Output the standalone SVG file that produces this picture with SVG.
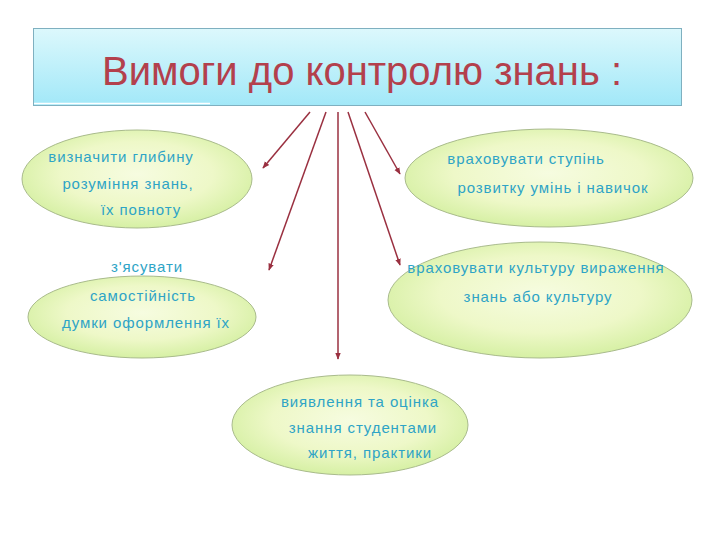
<svg xmlns="http://www.w3.org/2000/svg" width="720" height="540" viewBox="0 0 720 540">
<defs>
<linearGradient id="tg" x1="0" y1="0" x2="0" y2="1">
<stop offset="0" stop-color="#dcf8fc"/>
<stop offset="1" stop-color="#a2e8f8"/>
</linearGradient>
<radialGradient id="eg" cx="0.5" cy="0.45" r="0.55">
<stop offset="0" stop-color="#f6fce0"/>
<stop offset="0.6" stop-color="#eef8c8"/>
<stop offset="1" stop-color="#d6f0a4"/>
</radialGradient>
<marker id="ah" viewBox="0 0 10 10" refX="9" refY="5" markerWidth="7" markerHeight="7" orient="auto" markerUnits="userSpaceOnUse">
<path d="M0,1 L10,5 L0,9 z" fill="#9a3040"/>
</marker>
</defs>
<style>
.el{fill:url(#eg);stroke:#a9bb8c;stroke-width:1}
.t{font-family:"Liberation Sans",Arial,sans-serif;font-size:15px;letter-spacing:0.9px;fill:#2ea4c6}
.c{stroke:#9a3040;stroke-width:1.5;fill:none;marker-end:url(#ah)}
</style>
<rect width="720" height="540" fill="#ffffff"/>
<g id="title">
<rect x="33.5" y="28.5" width="648" height="77" fill="url(#tg)" stroke="#7fb0c0" stroke-width="1"/>
<line x1="34" y1="103.5" x2="210" y2="103.5" stroke="#ffffff" stroke-width="1.5"/>
<text x="362" y="85" text-anchor="middle" font-family="'Liberation Sans',Arial,sans-serif" font-size="40" fill="#b3404c">Вимоги до контролю знань :</text>
</g>
<g id="connectors">
<line class="c" x1="310" y1="112" x2="263" y2="168"/>
<line class="c" x1="326" y1="112" x2="269" y2="270"/>
<line class="c" x1="338" y1="112" x2="338" y2="359"/>
<line class="c" x1="348" y1="112" x2="400" y2="265"/>
<line class="c" x1="365" y1="112" x2="400" y2="174"/>
</g>
<g id="n1">
<ellipse class="el" cx="137" cy="179" rx="115" ry="49"/>
<text class="t" x="121" y="162" text-anchor="middle">визначити глибину</text>
<text class="t" x="128" y="189" text-anchor="middle">розуміння знань,</text>
<text class="t" x="141" y="215" text-anchor="middle">їх повноту</text>
</g>
<g id="n2">
<ellipse class="el" cx="549" cy="178" rx="144" ry="49"/>
<text class="t" x="526" y="164" text-anchor="middle">враховувати ступінь</text>
<text class="t" x="553" y="193" text-anchor="middle">розвитку умінь і навичок</text>
</g>
<g id="n3">
<ellipse class="el" cx="142" cy="317" rx="114" ry="41"/>
<text class="t" x="147" y="272" text-anchor="middle">з'ясувати</text>
<text class="t" x="143" y="301" text-anchor="middle">самостійність</text>
<text class="t" x="146" y="328" text-anchor="middle">думки оформлення їх</text>
</g>
<g id="n4">
<ellipse class="el" cx="540" cy="300" rx="152" ry="58"/>
<text class="t" x="536" y="273" text-anchor="middle">враховувати культуру вираження</text>
<text class="t" x="538" y="302" text-anchor="middle">знань або культуру</text>
</g>
<g id="n5">
<ellipse class="el" cx="350" cy="425" rx="118" ry="50"/>
<text class="t" x="360" y="407" text-anchor="middle">виявлення та оцінка</text>
<text class="t" x="363" y="433" text-anchor="middle">знання студентами</text>
<text class="t" x="370" y="458" text-anchor="middle">життя, практики</text>
</g>
</svg>
